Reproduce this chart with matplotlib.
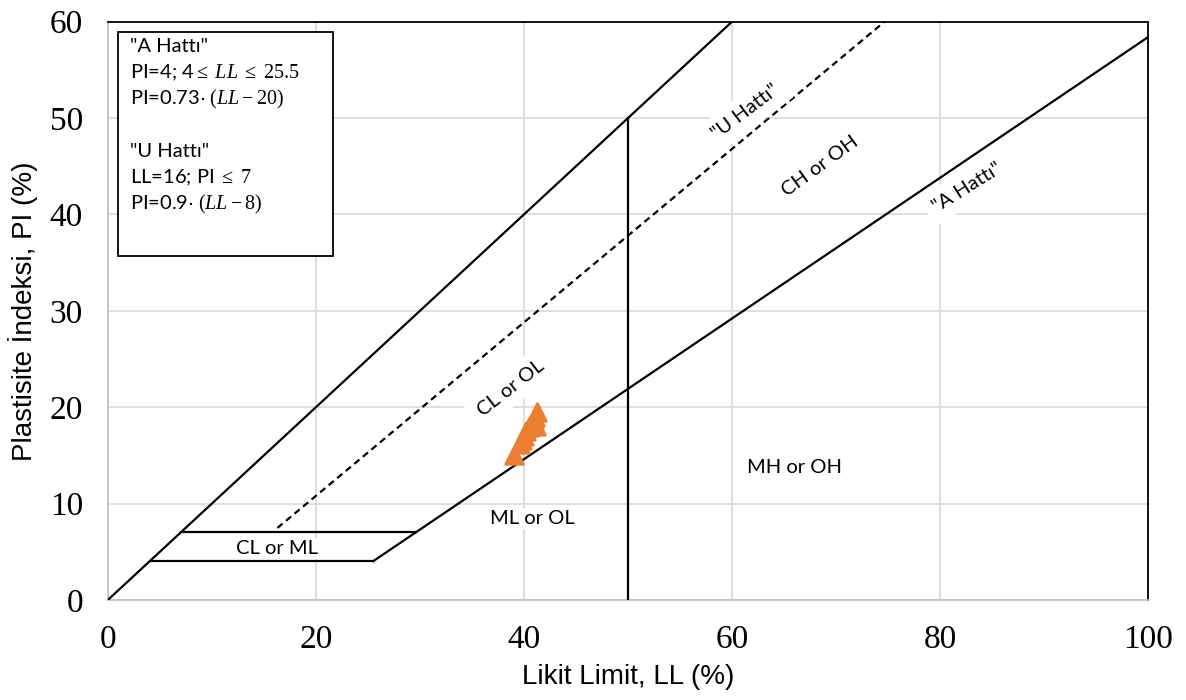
"""
Plastisite kartı (Casagrande) - LL vs PI
"""

import matplotlib.pyplot as plt
import matplotlib.patches as mpatches

#---------------------------------------------------------------------------------------------------
# Data
#---------------------------------------------------------------------------------------------------

# Sample points
ll_samples = [39.0, 39.6, 39.8, 40.0, 40.2, 40.5, 40.8, 41.0, 41.1, 41.3, 41.2, 40.6]
pi_samples = [15.0, 16.2, 16.6, 17.0, 17.5, 17.9, 18.2, 18.6, 19.0, 19.5, 18.0, 18.0]

# Chart boundary lines
line_ll1_x = [0, 60]
line_ll1_y = [0, 60]
a_line_x = [25.5, 100]
a_line_y = [0.73 * (x - 20) for x in a_line_x]
u_line_x = [16.3, 75]
u_line_y = [0.9 * (x - 8) for x in u_line_x]
pi4_x = [4, 25.5]
pi4_y = [4, 4]
pi7_x = [7, 20 + 7 / 0.73]
pi7_y = [7, 7]
ll50_x = [50, 50]
ll50_y = [0, 50]

# Zone labels: (text, LL, PI, rotation)
zone_labels = [('"U Hattı"', 61.3, 50.6, 37),
               ('"A Hattı"', 82.6, 42.8, 32),
               ('CH or OH', 68.5, 45.0, 36),
               ('CL or OL', 38.7, 22.0, 38),
               ('ML or OL', 40.8, 8.4, 0),
               ('MH or OH', 66.0, 13.7, 0),
               ('CL or ML', 16.3, 5.3, 0)]

box_lines = ['"A Hattı"',
             r'PI=4; 4$\leq\ LL\ \leq\ \mathrm{25.5}$',
             r'PI=0.73$\cdot\ \mathrm{(}LL-\mathrm{20)}$',
             '',
             '"U Hattı"',
             r'LL=16; PI $\leq\ \mathrm{7}$',
             r'PI=0.9$\cdot\ \mathrm{(}LL-\mathrm{8)}$']

xticks = [0, 20, 40, 60, 80, 100]
yticks = [0, 10, 20, 30, 40, 50, 60]

#---------------------------------------------------------------------------------------------------
# Plot
#---------------------------------------------------------------------------------------------------

plt.rcParams['mathtext.fontset'] = 'custom'
plt.rcParams['mathtext.rm'] = 'Liberation Serif'
plt.rcParams['mathtext.it'] = 'Liberation Serif:italic'
plt.rcParams['mathtext.sf'] = 'Lato'
plt.rcParams['mathtext.fallback'] = 'stix'
sans = ['Lato', 'DejaVu Sans']
narrow = ['Liberation Sans Narrow', 'Liberation Sans', 'DejaVu Sans']

fig = plt.figure(figsize=(11.86, 7.0), dpi=100)
ax = fig.add_axes([0.091, 0.143, 0.877, 0.826])

lw = 1.6
ax.plot(line_ll1_x, line_ll1_y, color='black', lw=lw, zorder=3)
ax.plot(a_line_x, a_line_y, color='black', lw=lw, zorder=3)
ax.plot(u_line_x, u_line_y, color='black', lw=lw, ls=(0, (3, 2)), zorder=3)
ax.plot(pi4_x, pi4_y, color='black', lw=lw, zorder=3)
ax.plot(pi7_x, pi7_y, color='black', lw=lw, zorder=3)
ax.plot(ll50_x, ll50_y, color='black', lw=lw, zorder=3)

ax.scatter(ll_samples, pi_samples, marker='^', s=160, color='#ED7D31', edgecolors='#ED7D31',
           linewidths=2, zorder=5)

for txt, x, y, rot in zone_labels:
    ax.text(x, y, txt, rotation=rot, ha='center', va='center', fontsize=14.5, family=sans,
            rotation_mode='anchor', zorder=4,
            bbox=dict(fc='white', ec='none', pad=6 if rot else 1))

# Equation box
ax.add_patch(mpatches.Rectangle((0.0095, 0.595), 0.2065, 0.388, transform=ax.transAxes,
                                fc='white', ec='black', lw=1.3, zorder=6))
for i, txt in enumerate(box_lines):
    ax.text(0.021, 0.957 - i * 0.0455, txt, transform=ax.transAxes, fontsize=14.5, family=sans,
            va='center', ha='left', zorder=7)

# Formatting
ax.set_xlim(0, 100)
ax.set_ylim(0, 60)
ax.set_xticks(xticks)
ax.set_yticks(yticks)
ax.grid(color='#d9d9d9', lw=1.2, zorder=0)
ax.set_axisbelow(True)
ax.tick_params(length=0, labelsize=24, pad=18)
for lab in ax.get_xticklabels() + ax.get_yticklabels():
    lab.set_family('Liberation Serif')
for side in ['top', 'right']:
    ax.spines[side].set_color('black')
    ax.spines[side].set_linewidth(1.3)
for side in ['left', 'bottom']:
    ax.spines[side].set_color('#bfbfbf')
    ax.spines[side].set_linewidth(1.2)

ax.set_xlabel('Likit Limit, LL (%)', fontsize=20, family=narrow, labelpad=6)
ax.set_ylabel('Plastisite İndeksi, PI (%)', fontsize=20, family=narrow, labelpad=8)

plt.savefig('out.png', dpi=100)
plt.close()
